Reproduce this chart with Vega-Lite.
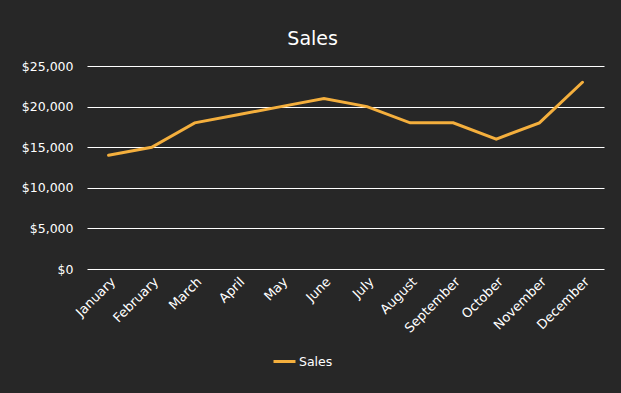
{
  "$schema": "https://vega.github.io/schema/vega-lite/v6.json",
  "width": 517,
  "height": 203,
  "autosize": {"type": "none"},
  "padding": {"left": 87, "top": 66, "right": 17, "bottom": 124},
  "background": "#272727",
  "title": {"text": "Sales", "color": "#ffffff", "fontSize": 19, "font": "DejaVu Sans", "fontWeight": "normal", "anchor": "middle", "frame": "bounds", "offset": 11},
  "data": {"values": [
    {"month": "January", "sales": 14000, "series": "Sales"},
    {"month": "February", "sales": 15000, "series": "Sales"},
    {"month": "March", "sales": 18000, "series": "Sales"},
    {"month": "April", "sales": 19000, "series": "Sales"},
    {"month": "May", "sales": 20000, "series": "Sales"},
    {"month": "June", "sales": 21000, "series": "Sales"},
    {"month": "July", "sales": 20000, "series": "Sales"},
    {"month": "August", "sales": 18000, "series": "Sales"},
    {"month": "September", "sales": 18000, "series": "Sales"},
    {"month": "October", "sales": 16000, "series": "Sales"},
    {"month": "November", "sales": 18000, "series": "Sales"},
    {"month": "December", "sales": 23000, "series": "Sales"}
  ]},
  "mark": {"type": "line", "strokeWidth": 3, "strokeCap": "round", "strokeJoin": "miter"},
  "encoding": {
    "x": {"field": "month", "type": "ordinal", "sort": null, "scale": {"type": "point", "padding": 0.5},
      "axis": {"title": null, "labelAngle": -45, "labelColor": "#ffffff", "labelFont": "DejaVu Sans", "labelFontSize": 13, "domain": false, "ticks": false, "grid": false, "labelPadding": 6}},
    "y": {"field": "sales", "type": "quantitative", "scale": {"domain": [0, 25000], "nice": false},
      "axis": {"title": null, "values": [0, 5000, 10000, 15000, 20000, 25000], "format": "$,.0f", "labelColor": "#ffffff", "labelFont": "DejaVu Sans", "labelFontSize": 12.5, "domain": false, "ticks": false, "grid": true, "gridColor": "#ffffff", "gridOpacity": 1, "gridWidth": 1, "labelPadding": 14}},
    "color": {"field": "series", "type": "nominal", "scale": {"range": ["#F4AF3D"]},
      "legend": {"title": null, "orient": "none", "legendX": 185, "legendY": 283, "symbolType": "stroke", "symbolSize": 484, "symbolStrokeWidth": 3, "labelColor": "#ffffff", "labelFont": "DejaVu Sans", "labelFontSize": 12.5, "labelOffset": 2}}
  },
  "config": {"view": {"stroke": null}}
}
